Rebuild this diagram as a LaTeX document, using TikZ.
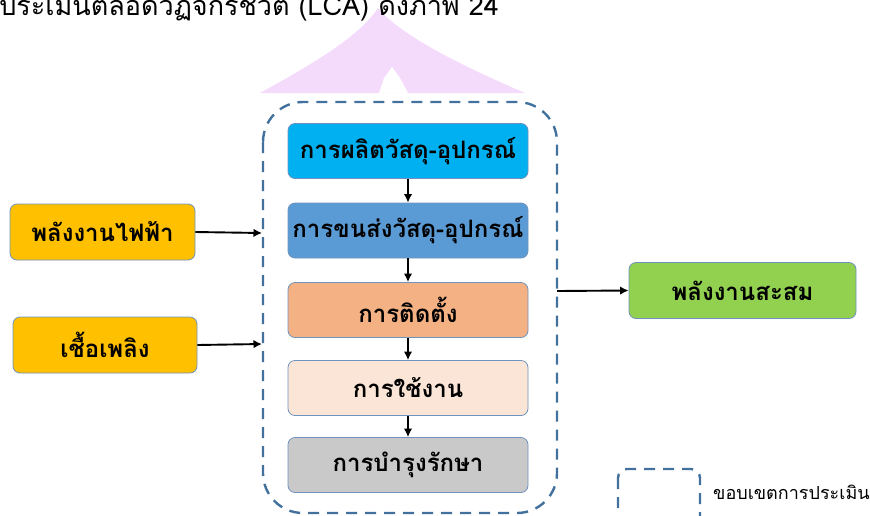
\documentclass[tikz,border=0pt]{standalone}
\usepackage{fontspec}
\newfontfamily\thai[Script=Thai]{Loma}
\usetikzlibrary{arrows.meta}
\definecolor{bord}{HTML}{6F93BD}
\definecolor{dash}{HTML}{41719C}
\definecolor{pinkw}{HTML}{F4DBFB}
\tikzset{
  stage/.style={draw=bord, line width=0.8pt, rounded corners=7pt, minimum width=240pt, minimum height=55pt, inner sep=0pt, font=\thai\bfseries\fontsize{24}{28}\selectfont},
  side/.style={draw=bord, line width=0.8pt, rounded corners=7pt, minimum height=56pt, inner sep=0pt, font=\thai\bfseries\fontsize{24}{28}\selectfont},
  flow/.style={-{Latex[length=8.5pt,width=8.5pt]}, line width=1.9pt},
  bound/.style={draw=dash, line width=2.4pt, dash pattern=on 11pt off 8pt}
}
\begin{document}
\begin{tikzpicture}[x=1pt,y=-1pt]
\useasboundingbox (0,0) rectangle (870,515);
% watermark
\fill[pinkw] (260,93) .. controls (320,60) and (360,35) .. (378,8) .. controls (400,35) and (460,65) .. (525,93) -- cycle;
\fill[white] (379,93) -- (384,78) -- (392,67) -- (400,78) -- (408,93) -- cycle;
% top text
\node[anchor=base west, inner sep=0pt, font=\thai\fontsize{27}{30}\selectfont] (title) at (-1,15.5) {ประเมินตลอดวัฏจักรชีวิต (LCA) ดังภาพ 24};
% boundary
\draw[bound, rounded corners=40pt] (263,102) rectangle (557,513);
\coordinate (bl1) at (262,233);
\coordinate (bl2) at (262,344);
\coordinate (br) at (557,291);
% stages
\node[stage, fill={rgb,255:red,0;green,176;blue,240}] (s1) at (408,151) {การผลิตวัสดุ-อุปกรณ์};
\node[stage, fill={rgb,255:red,91;green,155;blue,213}] (s2) at (408,230.5) {การขนส่งวัสดุ-อุปกรณ์};
\node[stage, fill={rgb,255:red,244;green,177;blue,131}] (s3) at (408,310) {การติดตั้ง};
\node[stage, fill={rgb,255:red,251;green,229;blue,214}] (s4) at (408,388) {การใช้งาน};
\node[stage, fill={rgb,255:red,201;green,201;blue,201}] (s5) at (408,465) {การบำรุงรักษา};
\draw[flow] (s1) -- (s2);
\draw[flow] (s2) -- (s3);
\draw[flow] (s3) -- (s4);
\draw[flow] (s4) -- (s5);
% sides
\node[side, fill={rgb,255:red,255;green,192;blue,0}, minimum width=185pt] (e1) at (102.5,232) {พลังงานไฟฟ้า};
\node[side, fill={rgb,255:red,255;green,192;blue,0}, minimum width=184pt] (e2) at (105,345) {เชื้อเพลิง};
\node[side, fill={rgb,255:red,146;green,208;blue,80}, minimum width=227pt] (out) at (742.5,290.5) {พลังงานสะสม};
\draw[flow] (e1.east) -- (bl1);
\draw[flow] (e2.east) -- (bl2);
\draw[flow] (br) -- (out.west);
% legend
\draw[bound, rounded corners=9pt] (618,469) rectangle (700,530);
\node[anchor=west, inner sep=0pt, font=\thai\fontsize{18}{21}\selectfont] (leg) at (713,492) {ขอบเขตการประเมิน};
\end{tikzpicture}
\end{document}
